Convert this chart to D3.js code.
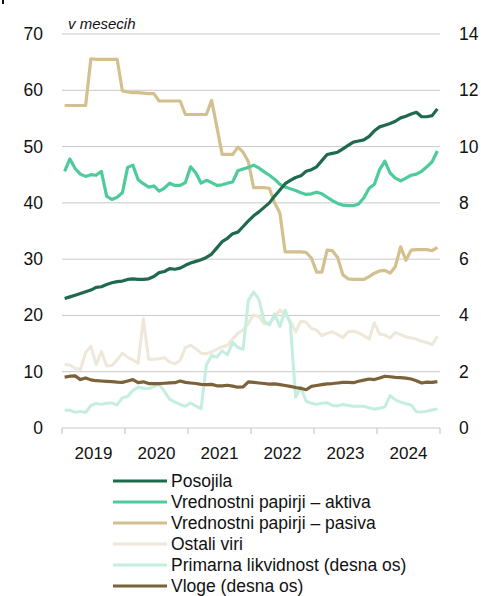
<!DOCTYPE html>
<html>
<head>
<meta charset="utf-8">
<script src="https://cdn.jsdelivr.net/npm/d3@7"></script>
<style>
  body { margin: 0; background: #fff; }
  text { font-family: "Liberation Sans", Arial, sans-serif; fill: #111; }
</style>
</head>
<body>
<script>
// months Jan 2019 - Dec 2024
const years = ["2019", "2020", "2021", "2022", "2023", "2024"];
const months = years.flatMap(y => d3.range(1, 13).map(m => y + "-" + m));

const posojila = [23.0, 23.3, 23.6, 23.9, 24.2, 24.5, 25.0, 25.1, 25.5, 25.8, 26.0, 26.1,
  26.4, 26.5, 26.4, 26.4, 26.5, 26.9, 27.6, 27.8, 28.3, 28.2, 28.4, 28.9,
  29.3, 29.6, 29.9, 30.3, 30.9, 32.0, 33.1, 33.7, 34.5, 34.8, 35.8, 36.8,
  37.7, 38.4, 39.2, 40.0, 41.2, 42.3, 43.4, 44.0, 44.5, 44.8, 45.6, 45.9,
  46.4, 47.5, 48.6, 48.8, 49.0, 49.6, 50.2, 50.8, 51.0, 51.2, 51.8, 52.8,
  53.5, 53.8, 54.1, 54.5, 55.1, 55.4, 55.8, 56.1, 55.3, 55.3, 55.5, 56.7];

const aktiva = [45.6, 47.8, 46.1, 45.1, 44.7, 45.0, 44.9, 45.6, 41.2, 40.6, 41.0, 41.8,
  46.3, 46.7, 44.1, 43.4, 42.8, 43.0, 42.1, 42.6, 43.5, 43.1, 43.1, 43.6,
  46.4, 45.3, 43.5, 44.0, 43.6, 43.1, 43.2, 43.5, 43.7, 45.7, 46.0, 46.3,
  46.7, 46.2, 45.5, 44.9, 44.2, 43.3, 42.8, 42.5, 42.2, 41.8, 41.5, 41.6,
  41.9, 41.6, 41.0, 40.4, 39.9, 39.6, 39.5, 39.5, 39.8, 40.9, 42.6, 43.3,
  45.9, 47.4, 45.3, 44.4, 43.9, 44.4, 44.9, 45.1, 45.6, 46.4, 47.3, 49.2];

const pasiva = [57.3, 57.3, 57.3, 57.3, 57.3, 65.6, 65.5, 65.5, 65.5, 65.5, 65.5, 59.9,
  59.7, 59.6, 59.6, 59.5, 59.4, 59.4, 58.1, 58.1, 58.1, 58.1, 58.1, 55.7,
  55.7, 55.7, 55.7, 55.7, 58.2, 53.5, 48.6, 48.6, 48.6, 49.9, 49.0, 47.3,
  42.7, 42.7, 42.7, 42.6, 40.0, 38.2, 31.3, 31.3, 31.3, 31.3, 31.2, 30.2,
  27.7, 27.7, 31.6, 31.5, 30.3, 27.2, 26.5, 26.4, 26.4, 26.4, 26.9, 27.5,
  27.9, 28.0, 27.5, 28.7, 32.2, 29.8, 31.6, 31.7, 31.7, 31.7, 31.5, 32.1];

const ostaliViri = [11.3, 11.2, 10.6, 10.4, 13.4, 14.5, 11.3, 13.6, 11.0, 11.1, 12.1, 13.3,
  12.6, 12.1, 11.5, 19.4, 12.2, 12.2, 12.3, 12.5, 11.7, 11.4, 12.0, 14.3,
  14.7, 14.1, 13.3, 13.2, 13.5, 14.0, 14.4, 14.7, 15.8, 16.8, 17.4, 18.6,
  20.1, 19.8, 18.5, 18.6, 19.6, 21.0, 20.2, 19.0, 17.1, 19.0, 18.8, 17.7,
  17.4, 16.4, 16.8, 17.1, 16.6, 16.1, 17.1, 17.2, 16.9, 16.4, 15.8, 18.7,
  16.7, 16.5, 16.0, 17.0, 16.6, 16.2, 16.0, 15.8, 15.4, 15.2, 14.8, 16.3];

// right axis
const primarna = [0.63, 0.63, 0.56, 0.59, 0.55, 0.80, 0.87, 0.84, 0.88, 0.89, 0.82, 1.08,
  1.12, 1.33, 1.45, 1.41, 1.40, 1.47, 1.55, 1.30, 1.02, 0.92, 0.84, 0.77,
  0.89, 0.78, 0.69, 2.25, 2.58, 2.52, 2.74, 2.60, 3.04, 2.86, 2.80, 4.54,
  4.83, 4.58, 3.80, 3.66, 4.05, 3.60, 4.18, 3.70, 1.10, 1.45, 0.95, 0.88,
  0.84, 0.88, 0.90, 0.80, 0.78, 0.84, 0.80, 0.77, 0.77, 0.77, 0.72, 0.67,
  0.70, 0.75, 1.15, 1.00, 0.92, 0.86, 0.82, 0.58, 0.57, 0.60, 0.64, 0.68];

const vloge = [1.81, 1.84, 1.85, 1.72, 1.78, 1.71, 1.68, 1.67, 1.66, 1.65, 1.63, 1.62,
  1.67, 1.72, 1.61, 1.64, 1.58, 1.58, 1.58, 1.59, 1.60, 1.61, 1.67, 1.62,
  1.60, 1.58, 1.55, 1.54, 1.55, 1.50, 1.50, 1.52, 1.49, 1.45, 1.46, 1.64,
  1.62, 1.60, 1.58, 1.56, 1.57, 1.54, 1.51, 1.48, 1.44, 1.41, 1.36, 1.48,
  1.51, 1.54, 1.57, 1.58, 1.60, 1.62, 1.62, 1.61, 1.66, 1.70, 1.74, 1.72,
  1.78, 1.84, 1.82, 1.80, 1.79, 1.77, 1.74, 1.68, 1.60, 1.63, 1.62, 1.65];

const leftTicks = [0, 10, 20, 30, 40, 50, 60, 70];
const rightTicks = [0, 2, 4, 6, 8, 10, 12, 14];

const series = [
  { name: "Posojila", values: posojila, axis: "left", color: "#1f6a4d", width: 3.2 },
  { name: "Vrednostni papirji – aktiva", values: aktiva, axis: "left", color: "#4ecb9b", width: 3.2 },
  { name: "Vrednostni papirji – pasiva", values: pasiva, axis: "left", color: "#d3c08e", width: 3.2 },
  { name: "Ostali viri", values: ostaliViri, axis: "left", color: "#eee7da", width: 3 },
  { name: "Primarna likvidnost (desna os)", values: primarna, axis: "right", color: "#c4eedd", width: 3 },
  { name: "Vloge (desna os)", values: vloge, axis: "right", color: "#7b6239", width: 3.2 }
];

const W = 481, H = 596;
const plotL = 62, plotR = 440, plotT = 34, plotB = 428;

const svg = d3.select("body")
    .append("svg")
    .attr("width", W)
    .attr("height", H);

const x = d3.scalePoint().domain(months).range([plotL, plotR]).padding(0.5);
const xYear = d3.scaleBand().domain(years).range([plotL, plotR]);
const yL = d3.scaleLinear().domain([0, 70]).range([plotB, plotT]);
const yR = d3.scaleLinear().domain([0, 14]).range([plotB, plotT]);

// gridlines
svg.append("g")
    .selectAll("line")
    .data(leftTicks)
    .enter()
    .append("line")
    .attr("x1", plotL)
    .attr("x2", plotR)
    .attr("y1", d => yL(d))
    .attr("y2", d => yL(d))
    .attr("stroke", "#c9c9c9")
    .attr("stroke-width", 1);

// left tick labels
svg.append("g")
    .selectAll("text")
    .data(leftTicks)
    .enter()
    .append("text")
    .attr("x", 43)
    .attr("y", d => yL(d) + 6)
    .attr("text-anchor", "end")
    .style("font-size", "17.5px")
    .text(d => d);

// right tick labels
svg.append("g")
    .selectAll("text")
    .data(rightTicks)
    .enter()
    .append("text")
    .attr("x", 459)
    .attr("y", d => yR(d) + 6)
    .style("font-size", "17.5px")
    .text(d => d);

// x axis ticks at year boundaries
const bounds = years.map(d => xYear(d)).concat([plotR]);
svg.append("g")
    .selectAll("line")
    .data(bounds)
    .enter()
    .append("line")
    .attr("x1", d => d)
    .attr("x2", d => d)
    .attr("y1", plotB)
    .attr("y2", plotB + 6)
    .attr("stroke", "#bdbdbd")
    .attr("stroke-width", 1);

svg.append("g")
    .selectAll("text")
    .data(years)
    .enter()
    .append("text")
    .attr("x", d => xYear(d) + xYear.bandwidth() / 2)
    .attr("y", 459)
    .attr("text-anchor", "middle")
    .style("font-size", "17px")
    .text(d => d);

// unit label
svg.append("text")
    .attr("x", 68)
    .attr("y", 29)
    .style("font-size", "15px")
    .style("font-style", "italic")
    .text("v mesecih");

// small fragment at top-left corner
svg.append("rect")
    .attr("x", 2)
    .attr("y", 0)
    .attr("width", 2)
    .attr("height", 4)
    .attr("fill", "#111");

// lines, drawn back to front
const drawOrder = [3, 4, 5, 2, 1, 0];
drawOrder.forEach(k => {
    const s = series[k];
    const y = s.axis === "left" ? yL : yR;
    const line = d3.line()
        .x((d, i) => x(months[i]))
        .y(d => y(d));
    svg.append("path")
        .datum(s.values)
        .attr("d", line)
        .attr("fill", "none")
        .attr("stroke", s.color)
        .attr("stroke-width", s.width)
        .attr("stroke-linejoin", "round");
});

// legend
const legend = svg.append("g")
    .selectAll("g")
    .data(series)
    .enter()
    .append("g")
    .attr("transform", (d, i) => `translate(0, ${481 + i * 21})`);

legend.append("line")
    .attr("x1", 113)
    .attr("x2", 167)
    .attr("stroke", d => d.color)
    .attr("stroke-width", 3);

legend.append("text")
    .attr("x", 171)
    .attr("y", 6)
    .style("font-size", "17.5px")
    .text(d => d.name);
</script>
</body>
</html>
